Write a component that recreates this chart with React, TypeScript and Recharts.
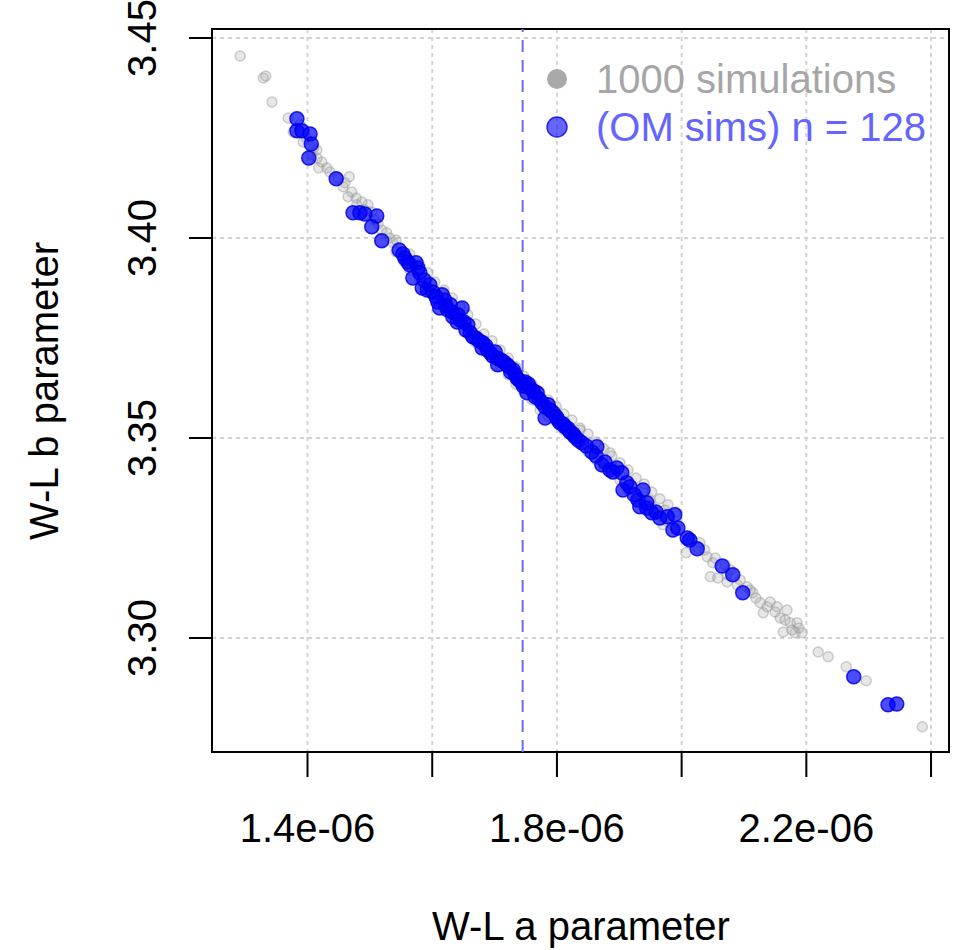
import React from 'react';
import {
  ScatterChart,
  Scatter,
  XAxis,
  YAxis,
  CartesianGrid,
  ReferenceLine,
  ReferenceArea,
  Customized,
} from 'recharts';

const FONT = '"Liberation Sans", Arial, Helvetica, sans-serif';

// 1000 simulations (visible grey points), W-L a parameter
const simA = [
  1.292e-6, 1.329e-6, 1.333e-6, 1.343e-6, 1.369e-6, 1.377e-6, 1.388e-6, 1.393e-6, 1.398e-6, 1.41e-6,
  1.415e-6, 1.407e-6, 1.415e-6, 1.418e-6, 1.423e-6, 1.431e-6, 1.436e-6, 1.449e-6, 1.46e-6, 1.467e-6,
  1.457e-6, 1.471e-6, 1.465e-6, 1.478e-6, 1.479e-6, 1.497e-6, 1.487e-6, 1.492e-6, 1.503e-6, 1.508e-6,
  1.513e-6, 1.519e-6, 1.527e-6, 1.532e-6, 1.537e-6,
  1.542e-6, 1.542e-6, 1.555e-6, 1.564e-6, 1.564e-6, 1.58e-6, 1.58e-6, 1.593e-6, 1.593e-6, 1.604e-6,
  1.604e-6, 1.619e-6, 1.619e-6, 1.632e-6, 1.632e-6, 1.645e-6, 1.645e-6, 1.657e-6, 1.657e-6, 1.67e-6,
  1.67e-6, 1.683e-6, 1.683e-6, 1.696e-6, 1.696e-6, 1.709e-6, 1.709e-6, 1.722e-6, 1.722e-6, 1.734e-6,
  1.734e-6, 1.747e-6, 1.747e-6, 1.76e-6, 1.76e-6, 1.773e-6, 1.773e-6, 1.786e-6, 1.786e-6, 1.799e-6,
  1.799e-6, 1.811e-6, 1.811e-6, 1.824e-6, 1.824e-6, 1.837e-6, 1.837e-6, 1.85e-6, 1.85e-6, 1.863e-6,
  1.863e-6, 1.875e-6, 1.875e-6, 1.888e-6, 1.888e-6, 1.901e-6, 1.901e-6, 1.914e-6, 1.914e-6, 1.927e-6,
  1.927e-6, 1.94e-6, 1.94e-6, 1.952e-6, 1.952e-6, 1.965e-6, 1.965e-6, 1.978e-6, 1.978e-6, 1.991e-6,
  1.991e-6,
  1.837e-6, 1.885e-6, 1.89e-6, 1.949e-6, 1.973e-6, 1.97e-6, 2.007e-6, 2.017e-6, 2.026e-6, 2.029e-6,
  2.037e-6, 2.041e-6, 2.05e-6, 2.054e-6, 2.046e-6, 2.058e-6, 2.07e-6, 2.073e-6, 2.073e-6, 2.078e-6,
  2.089e-6, 2.094e-6, 2.105e-6, 2.11e-6, 2.114e-6, 2.119e-6, 2.126e-6, 2.131e-6, 2.137e-6, 2.142e-6,
  2.15e-6, 2.153e-6, 2.158e-6, 2.163e-6, 2.166e-6, 2.169e-6, 2.174e-6, 2.177e-6, 2.182e-6, 2.185e-6,
  2.188e-6, 2.193e-6, 2.219e-6, 2.235e-6, 2.264e-6, 2.296e-6, 2.386e-6,
];

// 1000 simulations (visible grey points), W-L b parameter
const simB = [
  3.4455, 3.44, 3.4405, 3.434, 3.43, 3.4265, 3.4283, 3.424, 3.425, 3.4225,
  3.422, 3.4208, 3.42, 3.4175, 3.419, 3.4175, 3.4165, 3.415, 3.4138, 3.4153,
  3.4128, 3.4115, 3.4103, 3.41, 3.4083, 3.4083, 3.409, 3.407, 3.4065, 3.4045,
  3.4035, 3.402, 3.4013, 3.4, 3.3988,
  3.3995, 3.3965, 3.394, 3.396, 3.392, 3.3933, 3.3895, 3.3913, 3.3873, 3.389,
  3.3855, 3.387, 3.3833, 3.385, 3.381, 3.3828, 3.3785, 3.3808, 3.3763, 3.3785,
  3.3738, 3.376, 3.372, 3.3743, 3.37, 3.372, 3.3678, 3.37, 3.3658, 3.3678,
  3.3635, 3.3655, 3.3615, 3.3635, 3.3595, 3.3613, 3.357, 3.3595, 3.3555, 3.3578,
  3.354, 3.356, 3.352, 3.3545, 3.3503, 3.3525, 3.3485, 3.351, 3.3465, 3.349,
  3.3445, 3.3473, 3.3425, 3.3455, 3.341, 3.3438, 3.3395, 3.342, 3.337, 3.34,
  3.3355, 3.3385, 3.334, 3.3365, 3.333, 3.3348, 3.3305, 3.3333, 3.329, 3.3315,
  3.3275,
  3.352, 3.3463, 3.3428, 3.3345, 3.332, 3.3283, 3.3213, 3.3245, 3.3225, 3.3238,
  3.322, 3.3203, 3.3188, 3.32, 3.3153, 3.315, 3.3183, 3.3158, 3.314, 3.317,
  3.3133, 3.3145, 3.3128, 3.312, 3.3113, 3.31, 3.3088, 3.3063, 3.3078, 3.309,
  3.3065, 3.3078, 3.305, 3.3015, 3.3045, 3.307, 3.3038, 3.302, 3.3013, 3.3038,
  3.3025, 3.3013, 3.2965, 3.2953, 3.2928, 3.2893, 3.2778,
];

// OM sims (n = 128), W-L a parameter
const omA = [
  1.383e-6, 1.383e-6, 1.391e-6, 1.404e-6, 1.406e-6, 1.402e-6, 1.446e-6, 1.473e-6, 1.484e-6, 1.492e-6,
  1.511e-6, 1.503e-6, 1.519e-6, 1.547e-6, 1.553e-6, 1.574e-6, 1.564e-6, 1.577e-6, 1.569e-6, 1.584e-6,
  1.592e-6, 1.616e-6, 1.62e-6, 1.612e-6, 1.629e-6, 1.648e-6, 1.633e-6, 1.64e-6, 1.657e-6, 1.665e-6,
  1.681e-6, 1.68e-6, 1.693e-6, 1.704e-6, 1.705e-6, 1.73e-6, 1.736e-6, 1.744e-6, 1.757e-6, 1.752e-6,
  1.768e-6, 1.776e-6, 1.781e-6, 1.72e-6, 1.749e-6, 1.781e-6, 1.794e-6, 1.805e-6, 1.813e-6, 1.821e-6,
  1.834e-6, 1.856e-6, 1.864e-6, 1.872e-6, 1.885e-6, 1.896e-6, 1.912e-6, 1.906e-6, 1.938e-6, 1.93e-6,
  1.944e-6, 1.952e-6, 1.977e-6, 1.989e-6, 1.904e-6, 1.944e-6, 1.933e-6, 1.986e-6, 1.994e-6, 2.009e-6,
  2.025e-6, 2.065e-6, 2.082e-6, 2.098e-6, 2.276e-6, 2.331e-6, 2.345e-6,
  1.556e-6, 1.561e-6, 1.58e-6, 1.587e-6, 1.596e-6, 1.601e-6, 1.606e-6, 1.609e-6, 1.622e-6, 1.625e-6,
  1.632e-6, 1.641e-6, 1.645e-6, 1.651e-6, 1.654e-6, 1.661e-6, 1.67e-6, 1.675e-6, 1.686e-6, 1.689e-6,
  1.697e-6, 1.701e-6, 1.71e-6, 1.715e-6, 1.723e-6, 1.726e-6, 1.733e-6, 1.739e-6, 1.746e-6, 1.754e-6,
  1.762e-6, 1.765e-6, 1.771e-6, 1.786e-6, 1.789e-6, 1.799e-6, 1.802e-6, 1.81e-6, 1.818e-6, 1.826e-6,
  1.829e-6, 1.84e-6, 1.847e-6, 1.863e-6, 1.877e-6, 1.89e-6, 1.917e-6, 1.924e-6, 1.959e-6, 1.965e-6,
  2.013e-6,
];

// OM sims (n = 128), W-L b parameter
const omB = [
  3.4298, 3.4268, 3.4268, 3.426, 3.4235, 3.42, 3.4148, 3.4063, 3.4063, 3.406,
  3.4055, 3.4028, 3.3993, 3.397, 3.396, 3.3938, 3.3933, 3.3925, 3.39, 3.3875,
  3.387, 3.3858, 3.3845, 3.3825, 3.3833, 3.3825, 3.3803, 3.379, 3.3783, 3.3753,
  3.3738, 3.3725, 3.3713, 3.37, 3.3683, 3.367, 3.365, 3.3638, 3.3625, 3.3613,
  3.3613, 3.3588, 3.3578, 3.3683, 3.364, 3.355, 3.3563, 3.3538, 3.3528, 3.3515,
  3.3495, 3.3465, 3.3478, 3.3433, 3.342, 3.3425, 3.3388, 3.337, 3.337, 3.3345,
  3.3325, 3.3313, 3.3303, 3.3308, 3.3413, 3.3338, 3.3328, 3.327, 3.3275, 3.325,
  3.3223, 3.318, 3.3158, 3.3113, 3.2903, 3.2833, 3.2835,
  3.395, 3.394, 3.3913, 3.3895, 3.3883, 3.3865, 3.3853, 3.384, 3.383, 3.382,
  3.3815, 3.3808, 3.3795, 3.379, 3.377, 3.3763, 3.375, 3.3743, 3.373, 3.372,
  3.3705, 3.3715, 3.3695, 3.369, 3.3678, 3.3665, 3.366, 3.3645, 3.363, 3.3635,
  3.3618, 3.3603, 3.3598, 3.3583, 3.357, 3.3553, 3.3545, 3.3535, 3.3523, 3.351,
  3.3503, 3.3488, 3.348, 3.3455, 3.344, 3.3415, 3.3378, 3.3358, 3.3315, 3.33,
  3.3245,
];

const xTicks = [1.4e-6, 1.6e-6, 1.8e-6, 2.0e-6, 2.2e-6, 2.4e-6];
const xTickLabels = ['1.4e-06', '', '1.8e-06', '', '2.2e-06', ''];
const yTicks = [3.3, 3.35, 3.4, 3.45];
const yTickLabels = ['3.30', '3.35', '3.40', '3.45'];
const xDomain: [number, number] = [1.2468e-6, 2.4288e-6];
const yDomain: [number, number] = [3.2715, 3.45225];
const refA = 1.745e-6;
const xTitle = 'W-L a parameter';
const yTitle = 'W-L b parameter';
const legendLabels = ['1000 simulations', '(OM sims) n = 128'];

const simData = simA.map((a, i) => ({ a, b: simB[i] }));
const omData = omA.map((a, i) => ({ a, b: omB[i] }));

const XTick = (props: any) => {
  const { x, y, index } = props;
  return (
    <text x={x} y={y + 63} textAnchor="middle" fontSize={40} fontFamily={FONT} fill="#000">
      {xTickLabels[index]}
    </text>
  );
};

const YTick = (props: any) => {
  const { x, y, index } = props;
  const tx = x - 31;
  return (
    <text
      x={tx}
      y={y}
      transform={`rotate(-90, ${tx}, ${y})`}
      textAnchor="middle"
      fontSize={40}
      fontFamily={FONT}
      fill="#000"
    >
      {yTickLabels[index]}
    </text>
  );
};

const GreyDot = (props: any) => (
  <circle
    cx={props.cx}
    cy={props.cy}
    r={5}
    fill="rgba(160,160,160,0.25)"
    stroke="rgba(150,150,150,0.45)"
    strokeWidth={1.5}
  />
);

const BlueDot = (props: any) => (
  <circle
    cx={props.cx}
    cy={props.cy}
    r={7}
    fill="rgba(0,0,255,0.7)"
    stroke="rgba(0,0,230,0.85)"
    strokeWidth={1.5}
  />
);

const Overlay = () => (
  <g fontFamily={FONT} fontSize={40}>
    <circle cx={557} cy={79} r={10} fill="#a9a9a9" />
    <text x={596} y={93} fill="#a6a6a6">
      {legendLabels[0]}
    </text>
    <circle cx={557} cy={127} r={10} fill="rgba(0,0,255,0.6)" stroke="rgba(0,0,230,0.8)" strokeWidth={1.5} />
    <text x={596} y={141} fill="#6464ff">
      {legendLabels[1]}
    </text>
    <text x={581} y={940} textAnchor="middle" fill="#000">
      {xTitle}
    </text>
    <text x={58} y={391} transform="rotate(-90, 58, 391)" textAnchor="middle" fill="#000">
      {yTitle}
    </text>
  </g>
);

export default function App() {
  return (
    <div style={{ position: 'absolute', left: 0, top: 0, width: 959, height: 950, background: '#fff' }}>
      <ScatterChart width={959} height={950} margin={{ top: 29, right: 10, bottom: 0, left: 0 }}>
        <CartesianGrid stroke="#d3d3d3" strokeDasharray="4 4" strokeWidth={2} />
        <XAxis
          type="number"
          dataKey="a"
          domain={xDomain}
          ticks={xTicks}
          interval={0}
          allowDataOverflow
          height={198}
          tickSize={25}
          tickLine={{ stroke: '#000', strokeWidth: 2 }}
          axisLine={false}
          tick={XTick}
        />
        <YAxis
          type="number"
          dataKey="b"
          domain={yDomain}
          ticks={yTicks}
          interval={0}
          allowDataOverflow
          width={212}
          tickSize={23}
          tickLine={{ stroke: '#000', strokeWidth: 2 }}
          axisLine={false}
          tick={YTick}
        />
        <ReferenceLine x={refA} stroke="#6b6bff" strokeWidth={2} strokeDasharray="12 8" />
        <Scatter data={simData} shape={GreyDot} isAnimationActive={false} />
        <Scatter data={omData} shape={BlueDot} isAnimationActive={false} />
        <ReferenceArea
          x1={xDomain[0]}
          x2={xDomain[1]}
          y1={yDomain[0]}
          y2={yDomain[1]}
          fill="none"
          fillOpacity={0}
          stroke="#000"
          strokeWidth={2}
          ifOverflow="visible"
        />
        <Customized component={Overlay} />
      </ScatterChart>
    </div>
  );
}
